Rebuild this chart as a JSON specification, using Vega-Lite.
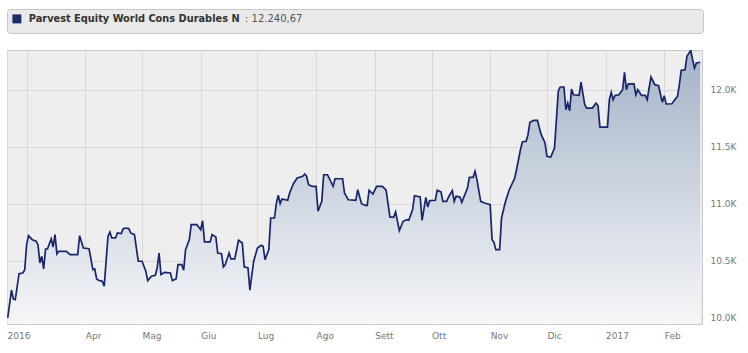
{
  "$schema": "https://vega.github.io/schema/vega-lite/v6.json",
  "background": "#ffffff",
  "padding": {"left": 6, "top": 8, "right": 4, "bottom": 4},
  "spacing": 15,
  "resolve": {"scale": {"color": "independent"}, "legend": {"color": "independent"}},
  "config": {"font": "DejaVu Sans"},
  "vconcat": [
    {
      "width": 696,
      "height": 24,
      "view": {"fill": "#e9e9e9", "stroke": "#c6c6c6", "cornerRadius": 3},
      "data": {"values": [{"series": "Parvest Equity World Cons Durables N"}]},
      "mark": {"type": "point", "filled": true, "opacity": 0},
      "encoding": {
        "color": {
          "field": "series",
          "type": "nominal",
          "scale": {"range": ["#1b2b6b"]},
          "legend": {
            "orient": "top-left",
            "offset": 5,
            "padding": 0,
            "title": ": 12.240,67",
            "titleOrient": "right",
            "titlePadding": 5,
            "titleFont": "DejaVu Sans",
            "titleFontSize": 10,
            "titleFontWeight": "normal",
            "titleColor": "#555555",
            "labelFont": "DejaVu Sans",
            "labelFontSize": 9.8,
            "labelFontWeight": "bold",
            "labelColor": "#333333",
            "labelOffset": 7,
            "labelLimit": 0,
            "symbolType": "square",
            "symbolSize": 81,
            "symbolOpacity": 1,
            "symbolStrokeWidth": 0,
            "symbolFillColor": "#1b2b6b"
          }
        }
      }
    },
    {
      "width": 695,
      "height": 274,
      "view": {"fill": "#eeeeee", "stroke": "#c8c8c8"},
      "data": {"values": [
        {"date": "2016-02-20", "value": 10000},
        {"date": "2016-02-22", "value": 10243},
        {"date": "2016-02-23", "value": 10166},
        {"date": "2016-02-24", "value": 10160},
        {"date": "2016-02-26", "value": 10388},
        {"date": "2016-02-28", "value": 10394},
        {"date": "2016-02-29", "value": 10423},
        {"date": "2016-03-01", "value": 10642},
        {"date": "2016-03-02", "value": 10721},
        {"date": "2016-03-04", "value": 10686},
        {"date": "2016-03-06", "value": 10672},
        {"date": "2016-03-07", "value": 10642},
        {"date": "2016-03-08", "value": 10482},
        {"date": "2016-03-09", "value": 10540},
        {"date": "2016-03-10", "value": 10429},
        {"date": "2016-03-11", "value": 10604},
        {"date": "2016-03-12", "value": 10604},
        {"date": "2016-03-14", "value": 10692},
        {"date": "2016-03-15", "value": 10622},
        {"date": "2016-03-16", "value": 10730},
        {"date": "2016-03-17", "value": 10561},
        {"date": "2016-03-18", "value": 10584},
        {"date": "2016-03-22", "value": 10584},
        {"date": "2016-03-24", "value": 10555},
        {"date": "2016-03-28", "value": 10555},
        {"date": "2016-03-29", "value": 10721},
        {"date": "2016-03-31", "value": 10613},
        {"date": "2016-04-03", "value": 10607},
        {"date": "2016-04-05", "value": 10423},
        {"date": "2016-04-06", "value": 10429},
        {"date": "2016-04-07", "value": 10342},
        {"date": "2016-04-08", "value": 10330},
        {"date": "2016-04-10", "value": 10321},
        {"date": "2016-04-11", "value": 10278},
        {"date": "2016-04-13", "value": 10715},
        {"date": "2016-04-14", "value": 10752},
        {"date": "2016-04-15", "value": 10701},
        {"date": "2016-04-17", "value": 10701},
        {"date": "2016-04-18", "value": 10745},
        {"date": "2016-04-20", "value": 10739},
        {"date": "2016-04-21", "value": 10780},
        {"date": "2016-04-22", "value": 10788},
        {"date": "2016-04-24", "value": 10783},
        {"date": "2016-04-25", "value": 10745},
        {"date": "2016-04-27", "value": 10730},
        {"date": "2016-04-29", "value": 10497},
        {"date": "2016-05-01", "value": 10497},
        {"date": "2016-05-03", "value": 10409},
        {"date": "2016-05-04", "value": 10327},
        {"date": "2016-05-06", "value": 10365},
        {"date": "2016-05-08", "value": 10374},
        {"date": "2016-05-09", "value": 10438},
        {"date": "2016-05-10", "value": 10569},
        {"date": "2016-05-11", "value": 10380},
        {"date": "2016-05-13", "value": 10400},
        {"date": "2016-05-16", "value": 10394},
        {"date": "2016-05-17", "value": 10327},
        {"date": "2016-05-19", "value": 10342},
        {"date": "2016-05-20", "value": 10467},
        {"date": "2016-05-22", "value": 10467},
        {"date": "2016-05-23", "value": 10418},
        {"date": "2016-05-24", "value": 10598},
        {"date": "2016-05-26", "value": 10686},
        {"date": "2016-05-27", "value": 10817},
        {"date": "2016-05-30", "value": 10817},
        {"date": "2016-06-01", "value": 10773},
        {"date": "2016-06-02", "value": 10852},
        {"date": "2016-06-03", "value": 10666},
        {"date": "2016-06-06", "value": 10666},
        {"date": "2016-06-07", "value": 10730},
        {"date": "2016-06-09", "value": 10710},
        {"date": "2016-06-10", "value": 10569},
        {"date": "2016-06-12", "value": 10563},
        {"date": "2016-06-13", "value": 10447},
        {"date": "2016-06-14", "value": 10467},
        {"date": "2016-06-16", "value": 10569},
        {"date": "2016-06-17", "value": 10517},
        {"date": "2016-06-19", "value": 10517},
        {"date": "2016-06-21", "value": 10681},
        {"date": "2016-06-23", "value": 10657},
        {"date": "2016-06-24", "value": 10447},
        {"date": "2016-06-26", "value": 10438},
        {"date": "2016-06-27", "value": 10243},
        {"date": "2016-06-29", "value": 10497},
        {"date": "2016-07-01", "value": 10613},
        {"date": "2016-07-03", "value": 10637},
        {"date": "2016-07-04", "value": 10628},
        {"date": "2016-07-05", "value": 10511},
        {"date": "2016-07-07", "value": 10598},
        {"date": "2016-07-08", "value": 10876},
        {"date": "2016-07-10", "value": 10876},
        {"date": "2016-07-11", "value": 11007},
        {"date": "2016-07-12", "value": 11075},
        {"date": "2016-07-13", "value": 11001},
        {"date": "2016-07-14", "value": 11042},
        {"date": "2016-07-17", "value": 11031},
        {"date": "2016-07-18", "value": 11095},
        {"date": "2016-07-20", "value": 11176},
        {"date": "2016-07-22", "value": 11226},
        {"date": "2016-07-25", "value": 11241},
        {"date": "2016-07-26", "value": 11261},
        {"date": "2016-07-27", "value": 11240},
        {"date": "2016-07-28", "value": 11168},
        {"date": "2016-07-30", "value": 11153},
        {"date": "2016-08-01", "value": 11153},
        {"date": "2016-08-02", "value": 10935},
        {"date": "2016-08-04", "value": 11022},
        {"date": "2016-08-05", "value": 11255},
        {"date": "2016-08-07", "value": 11255},
        {"date": "2016-08-10", "value": 11153},
        {"date": "2016-08-11", "value": 11220},
        {"date": "2016-08-15", "value": 11220},
        {"date": "2016-08-16", "value": 11095},
        {"date": "2016-08-18", "value": 11036},
        {"date": "2016-08-22", "value": 11031},
        {"date": "2016-08-23", "value": 11124},
        {"date": "2016-08-25", "value": 11001},
        {"date": "2016-08-27", "value": 10987},
        {"date": "2016-08-28", "value": 10987},
        {"date": "2016-08-29", "value": 11119},
        {"date": "2016-08-31", "value": 11086},
        {"date": "2016-09-02", "value": 11153},
        {"date": "2016-09-05", "value": 11153},
        {"date": "2016-09-07", "value": 11119},
        {"date": "2016-09-09", "value": 10885},
        {"date": "2016-09-11", "value": 10882},
        {"date": "2016-09-12", "value": 10929},
        {"date": "2016-09-14", "value": 10765},
        {"date": "2016-09-16", "value": 10847},
        {"date": "2016-09-18", "value": 10861},
        {"date": "2016-09-19", "value": 10856},
        {"date": "2016-09-21", "value": 10949},
        {"date": "2016-09-22", "value": 11071},
        {"date": "2016-09-25", "value": 11060},
        {"date": "2016-09-26", "value": 10856},
        {"date": "2016-09-28", "value": 11057},
        {"date": "2016-09-29", "value": 10972},
        {"date": "2016-09-30", "value": 11028},
        {"date": "2016-10-03", "value": 11031},
        {"date": "2016-10-04", "value": 11119},
        {"date": "2016-10-06", "value": 11104},
        {"date": "2016-10-07", "value": 11022},
        {"date": "2016-10-09", "value": 11022},
        {"date": "2016-10-10", "value": 11060},
        {"date": "2016-10-12", "value": 11115},
        {"date": "2016-10-13", "value": 11022},
        {"date": "2016-10-14", "value": 11066},
        {"date": "2016-10-16", "value": 11060},
        {"date": "2016-10-17", "value": 11013},
        {"date": "2016-10-20", "value": 11139},
        {"date": "2016-10-21", "value": 11232},
        {"date": "2016-10-23", "value": 11232},
        {"date": "2016-10-24", "value": 11285},
        {"date": "2016-10-25", "value": 11212},
        {"date": "2016-10-27", "value": 11022},
        {"date": "2016-10-29", "value": 11007},
        {"date": "2016-11-01", "value": 10993},
        {"date": "2016-11-02", "value": 10686},
        {"date": "2016-11-03", "value": 10663},
        {"date": "2016-11-04", "value": 10598},
        {"date": "2016-11-06", "value": 10598},
        {"date": "2016-11-07", "value": 10876},
        {"date": "2016-11-09", "value": 11013},
        {"date": "2016-11-11", "value": 11119},
        {"date": "2016-11-14", "value": 11226},
        {"date": "2016-11-15", "value": 11305},
        {"date": "2016-11-17", "value": 11474},
        {"date": "2016-11-18", "value": 11542},
        {"date": "2016-11-20", "value": 11548},
        {"date": "2016-11-21", "value": 11606},
        {"date": "2016-11-22", "value": 11714},
        {"date": "2016-11-24", "value": 11731},
        {"date": "2016-11-26", "value": 11731},
        {"date": "2016-11-27", "value": 11664},
        {"date": "2016-11-28", "value": 11606},
        {"date": "2016-11-30", "value": 11533},
        {"date": "2016-12-01", "value": 11416},
        {"date": "2016-12-03", "value": 11410},
        {"date": "2016-12-05", "value": 11489},
        {"date": "2016-12-06", "value": 11737},
        {"date": "2016-12-07", "value": 11986},
        {"date": "2016-12-08", "value": 12024},
        {"date": "2016-12-10", "value": 12024},
        {"date": "2016-12-11", "value": 11825},
        {"date": "2016-12-12", "value": 11883},
        {"date": "2016-12-13", "value": 11816},
        {"date": "2016-12-14", "value": 12006},
        {"date": "2016-12-15", "value": 11956},
        {"date": "2016-12-18", "value": 11950},
        {"date": "2016-12-19", "value": 12067},
        {"date": "2016-12-21", "value": 11868},
        {"date": "2016-12-22", "value": 11839},
        {"date": "2016-12-25", "value": 11839},
        {"date": "2016-12-27", "value": 11883},
        {"date": "2016-12-28", "value": 11860},
        {"date": "2016-12-29", "value": 11673},
        {"date": "2017-01-02", "value": 11673},
        {"date": "2017-01-03", "value": 11913},
        {"date": "2017-01-04", "value": 11977},
        {"date": "2017-01-05", "value": 11913},
        {"date": "2017-01-06", "value": 11950},
        {"date": "2017-01-08", "value": 11956},
        {"date": "2017-01-10", "value": 12000},
        {"date": "2017-01-11", "value": 12152},
        {"date": "2017-01-12", "value": 12000},
        {"date": "2017-01-13", "value": 12052},
        {"date": "2017-01-16", "value": 12052},
        {"date": "2017-01-17", "value": 11956},
        {"date": "2017-01-18", "value": 12000},
        {"date": "2017-01-20", "value": 11950},
        {"date": "2017-01-22", "value": 11950},
        {"date": "2017-01-23", "value": 11913},
        {"date": "2017-01-24", "value": 12015},
        {"date": "2017-01-25", "value": 12111},
        {"date": "2017-01-27", "value": 12044},
        {"date": "2017-01-29", "value": 12035},
        {"date": "2017-01-31", "value": 11889},
        {"date": "2017-02-01", "value": 11948},
        {"date": "2017-02-02", "value": 11875},
        {"date": "2017-02-05", "value": 11877},
        {"date": "2017-02-08", "value": 11942},
        {"date": "2017-02-09", "value": 12044},
        {"date": "2017-02-10", "value": 12170},
        {"date": "2017-02-12", "value": 12175},
        {"date": "2017-02-13", "value": 12292},
        {"date": "2017-02-15", "value": 12345},
        {"date": "2017-02-16", "value": 12263},
        {"date": "2017-02-17", "value": 12190},
        {"date": "2017-02-18", "value": 12234},
        {"date": "2017-02-20", "value": 12240.67}
      ]},
      "encoding": {
        "x": {
          "field": "date",
          "type": "temporal",
          "scale": {
            "type": "utc",
            "domain": [
              {"year": 2016, "month": 2, "date": 19, "hours": 15, "utc": true},
              {"year": 2017, "month": 2, "date": 20, "hours": 23, "utc": true}
            ]
          },
          "axis": {
            "title": null,
            "values": [
              {"year": 2016, "month": 2, "date": 19, "hours": 15, "utc": true},
              {"year": 2016, "month": 3, "date": 1, "utc": true},
              {"year": 2016, "month": 4, "date": 1, "utc": true},
              {"year": 2016, "month": 5, "date": 1, "utc": true},
              {"year": 2016, "month": 6, "date": 1, "utc": true},
              {"year": 2016, "month": 7, "date": 1, "utc": true},
              {"year": 2016, "month": 8, "date": 1, "utc": true},
              {"year": 2016, "month": 9, "date": 1, "utc": true},
              {"year": 2016, "month": 10, "date": 1, "utc": true},
              {"year": 2016, "month": 11, "date": 1, "utc": true},
              {"year": 2016, "month": 12, "date": 1, "utc": true},
              {"year": 2017, "month": 1, "date": 1, "utc": true},
              {"year": 2017, "month": 2, "date": 1, "utc": true}
            ],
            "labelExpr": "utcdate(datum.value) != 1 ? '2016' : (utcmonth(datum.value) == 0 ? '2017' : (utcmonth(datum.value) == 2 ? '' : ['Gen','Feb','Mar','Apr','Mag','Giu','Lug','Ago','Sett','Ott','Nov','Dic'][utcmonth(datum.value)]))",
            "labelAlign": "left",
            "labelBaseline": "top",
            "labelPadding": 7,
            "labelDx": 1,
            "labelFont": "DejaVu Sans",
            "labelFontSize": 9,
            "labelColor": "#777777",
            "labelOverlap": false,
            "labelFlush": false,
            "labelBound": false,
            "ticks": false,
            "domain": false,
            "grid": true,
            "gridColor": "#d9d9d9"
          }
        },
        "y": {
          "field": "value",
          "type": "quantitative",
          "scale": {"domain": [9947, 12348], "zero": false, "nice": false},
          "axis": {
            "orient": "right",
            "title": null,
            "values": [10000, 10500, 11000, 11500, 12000],
            "labelExpr": "format(datum.value / 1000, '.1f') + 'K'",
            "labelAlign": "left",
            "labelPadding": 8,
            "labelFont": "DejaVu Sans",
            "labelFontSize": 9,
            "labelColor": "#777777",
            "ticks": false,
            "domain": false,
            "grid": true,
            "gridColor": "#d9d9d9"
          }
        }
      },
      "layer": [
        {
          "mark": {
            "type": "area",
            "clip": true,
            "fillOpacity": 1,
            "fill": {
              "gradient": "linear",
              "x1": 0, "y1": 0, "x2": 0, "y2": 1,
              "stops": [
                {"offset": 0, "color": "#a3b2c7"},
                {"offset": 0.5, "color": "#cdd5e0"},
                {"offset": 1, "color": "#f5f6f8"}
              ]
            }
          },
          "encoding": {"y2": {"datum": 9947}}
        },
        {
          "mark": {"type": "line", "clip": true, "color": "#17266b", "strokeWidth": 1.7}
        }
      ]
    }
  ]
}
